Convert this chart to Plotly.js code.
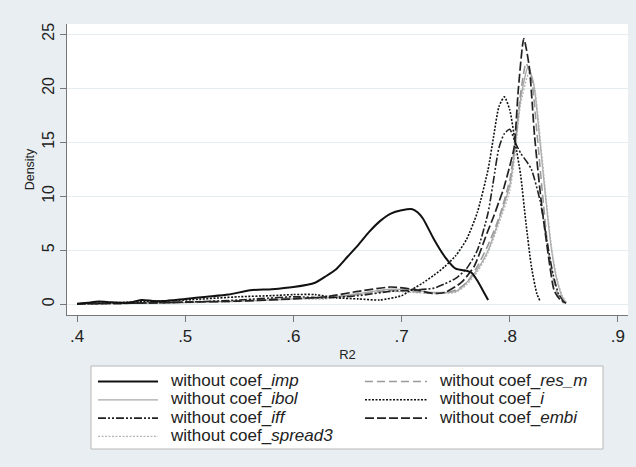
<!DOCTYPE html>
<html>
<head>
<meta charset="utf-8">
<script src="https://cdn.plot.ly/plotly-3.0.1.min.js"></script>
<style>html,body{margin:0;padding:0;background:#e8eef1;}#chart{width:636px;height:467px;}</style>
</head>
<body>
<div id="chart"></div>
<script>
// ---- data (kernel density of R2) ----
const impX = [0.40,0.41,0.42,0.43,0.44,0.45,0.46,0.47,0.48,0.50,0.52,0.54,0.56,0.58,0.60,0.62,0.63,0.64,0.65,0.66,0.67,0.68,0.69,0.70,0.71,0.715,0.72,0.73,0.74,0.75,0.76,0.765,0.77,0.775,0.78];
const impY = [0.05,0.15,0.25,0.2,0.15,0.2,0.4,0.3,0.3,0.5,0.7,0.9,1.3,1.4,1.6,2.0,2.6,3.3,4.4,5.5,6.7,7.7,8.4,8.7,8.8,8.5,7.9,6.0,4.4,3.3,3.1,2.9,2.2,1.3,0.4];

const resmX = [0.40,0.45,0.50,0.55,0.58,0.60,0.63,0.66,0.69,0.71,0.73,0.75,0.76,0.77,0.78,0.79,0.80,0.805,0.81,0.815,0.82,0.825,0.83,0.835,0.84,0.845,0.85];
const resmY = [0.05,0.1,0.2,0.3,0.5,0.6,0.6,0.9,1.3,1.2,1.0,1.3,2.0,3.5,5.5,8.0,11.5,15.0,19.5,22.3,21.0,16.0,10.5,5.5,2.5,0.8,0.1];

const ibolX = [0.40,0.45,0.50,0.55,0.58,0.60,0.63,0.66,0.69,0.71,0.73,0.75,0.76,0.77,0.78,0.79,0.80,0.805,0.81,0.817,0.822,0.828,0.833,0.838,0.843,0.848,0.852];
const ibolY = [0.05,0.1,0.15,0.3,0.4,0.5,0.6,1.0,1.4,1.3,1.1,1.2,2.0,3.2,5.0,7.8,11.0,14.5,19.0,22.0,20.5,15.0,10.0,5.5,2.5,0.8,0.1];

const iX = [0.40,0.45,0.50,0.55,0.58,0.60,0.62,0.64,0.66,0.68,0.70,0.71,0.72,0.73,0.74,0.75,0.76,0.77,0.78,0.785,0.79,0.795,0.80,0.805,0.81,0.815,0.82,0.825,0.828];
const iY = [0.05,0.2,0.4,0.7,0.8,0.9,0.9,0.6,0.5,0.4,0.8,1.4,2.0,2.7,3.5,4.5,6.0,8.5,12.5,15.5,18.3,19.2,18.0,15.0,12.0,7.5,3.5,1.0,0.3];

const iffX = [0.40,0.45,0.50,0.55,0.60,0.63,0.66,0.69,0.71,0.73,0.74,0.75,0.76,0.77,0.78,0.785,0.79,0.795,0.80,0.805,0.81,0.815,0.82,0.828,0.835,0.84,0.845,0.85];
const iffY = [0.05,0.1,0.2,0.4,0.7,0.6,0.8,1.2,1.3,1.5,1.9,2.4,3.3,5.0,8.5,11.5,14.5,15.8,16.2,15.0,14.0,13.3,12.5,9.6,5.5,2.8,1.0,0.2];

const embiX = [0.40,0.45,0.50,0.55,0.60,0.63,0.66,0.69,0.71,0.73,0.74,0.755,0.767,0.779,0.785,0.79,0.794,0.80,0.804,0.808,0.813,0.818,0.823,0.829,0.835,0.841,0.846,0.852];
const embiY = [0.05,0.1,0.2,0.3,0.5,0.7,1.2,1.6,1.4,1.0,1.1,2.0,3.5,6.6,8.1,9.5,10.6,12.8,14.5,20.0,24.6,22.0,15.5,9.6,5.0,1.3,0.5,0.1];

const spreadX = [0.40,0.45,0.50,0.55,0.58,0.60,0.63,0.66,0.69,0.71,0.73,0.75,0.76,0.77,0.78,0.79,0.80,0.805,0.81,0.818,0.823,0.829,0.834,0.839,0.844,0.849,0.853];
const spreadY = [0.05,0.1,0.15,0.25,0.4,0.5,0.5,0.9,1.2,1.1,1.0,1.1,1.8,3.0,4.8,7.5,10.5,14.0,18.5,21.5,20.0,14.5,9.5,5.0,2.2,0.7,0.1];

const seriesNames = ['without coef_<i>imp</i>','without coef_<i>res_m</i>','without coef_<i>ibol</i>','without coef_<i>i</i>','without coef_<i>iff</i>','without coef_<i>embi</i>','without coef_<i>spread3</i>'];
const xTickVals = [0.4,0.5,0.6,0.7,0.8,0.9];
const xTickText = ['.4','.5','.6','.7','.8','.9'];
const yTickVals = [0,5,10,15,20,25];
const yTickText = ['0','5','10','15','20','25'];

const xs = [impX,resmX,ibolX,iX,iffX,embiX,spreadX];
const ys = [impY,resmY,ibolY,iY,iffY,embiY,spreadY];
const styles = [
  {color:'#111111', width:2, dash:'solid'},
  {color:'#9a9a9a', width:1.6, dash:'8px,4px'},
  {color:'#a8a8a8', width:1.3, dash:'solid'},
  {color:'#111111', width:1.6, dash:'2px,1.5px'},
  {color:'#222222', width:1.6, dash:'8px,2px,2px,2px,2px,2px'},
  {color:'#222222', width:1.7, dash:'9px,3px'},
  {color:'#b4b4b4', width:1.3, dash:'2px,1.5px'}
];

// draw order: grey ones underneath
const drawOrder = [2,6,1,4,3,5,0];
const traces = drawOrder.map(k=>({
  type:'scatter', mode:'lines', x:xs[k], y:ys[k], name:seriesNames[k],
  line:Object.assign({shape:'spline', smoothing:0.6}, styles[k]), showlegend:false
}));

// ---- manual legend (Stata style: two columns) ----
const M = {l:67, r:8, t:24, b:152};
const W = 636, H = 467;
const pw = W - M.l - M.r, ph = H - M.t - M.b;
const px = v => (v - M.l) / pw;
const py = v => (H - M.b - v) / ph;
const legendCols = [[0,2,4,6],[1,3,5]];
const colLineX = [[98,158],[365,427]];
const colTextX = [168,437];
const rowY = [381.5,399.8,418.1,436.4];
const shapes = [{type:'rect', xref:'paper', yref:'paper', x0:px(91), x1:px(603), y0:py(366), y1:py(449),
  fillcolor:'#ffffff', line:{color:'#b8b8b8', width:1}, layer:'below'}];
const annotations = [];
legendCols.forEach((col,c)=>{
  col.forEach((k,r)=>{
    shapes.push({type:'line', xref:'paper', yref:'paper', x0:px(colLineX[c][0]), x1:px(colLineX[c][1]),
      y0:py(rowY[r]), y1:py(rowY[r]), line:{color:styles[k].color, width:styles[k].width, dash:styles[k].dash}});
    annotations.push({xref:'paper', yref:'paper', x:px(colTextX[c]), y:py(rowY[r]-1), xanchor:'left', yanchor:'middle',
      text:seriesNames[k], showarrow:false, font:{size:17, color:'#222'}});
  });
});

const layout = {
  width:W, height:H,
  paper_bgcolor:'#e8eef1', plot_bgcolor:'#ffffff',
  margin:Object.assign({autoexpand:false}, M),
  font:{family:'"Liberation Sans", Arial, sans-serif', color:'#222', size:16},
  showlegend:false,
  xaxis:{
    range:[0.3907,0.9093], tickvals:xTickVals, ticktext:xTickText,
    ticks:'outside', ticklen:6, tickcolor:'#777', showline:true, linecolor:'#777', linewidth:1,
    showgrid:false, zeroline:false, tickfont:{size:17},
    title:{text:'R2', font:{size:13}, standoff:4}
  },
  yaxis:{
    range:[-0.99,25.95], tickvals:yTickVals, ticktext:yTickText, tickangle:-90,
    ticks:'outside', ticklen:6, tickcolor:'#777', showline:true, linecolor:'#777', linewidth:1,
    showgrid:true, gridcolor:'#e4edf0', gridwidth:1, zeroline:false, tickfont:{size:16},
    title:{text:'Density', font:{size:12.5}, standoff:2}
  },
  shapes:shapes,
  annotations:annotations
};
Plotly.newPlot('chart', traces, layout, {staticPlot:true, displayModeBar:false});
</script>
</body>
</html>
